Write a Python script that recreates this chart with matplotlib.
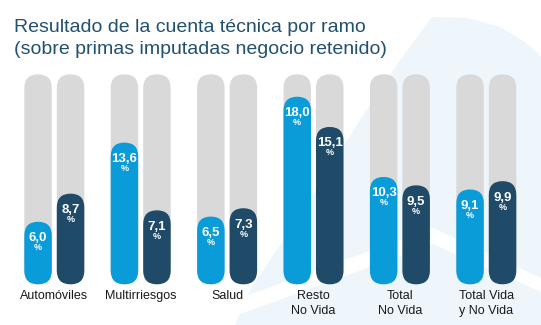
import matplotlib
matplotlib.use("Agg")
import matplotlib.pyplot as plt
from matplotlib.patches import FancyBboxPatch, Polygon

plt.rcParams['font.family'] = ['Liberation Sans', 'DejaVu Sans']

# ---- data ----
categories = ["Automóviles", "Multirriesgos", "Salud", "Resto\nNo Vida", "Total\nNo Vida", "Total Vida\ny No Vida"]
series_a = [6.0, 13.6, 6.5, 18.0, 10.3, 9.1]   # light blue
series_b = [8.7, 7.1, 7.3, 15.1, 9.5, 9.9]     # dark blue
track_max = 20.15
title_lines = ["Resultado de la cuenta técnica por ramo",
               "(sobre primas imputadas negocio retenido)"]

# ---- style ----
W, H = 541, 325
PX_PER_UNIT = 10.42
BASE_PX = 284.3          # pixel row (from top) of bar bottoms
C_LIGHT = "#0a9bd9"
C_DARK = "#1f4a68"
C_TRACK = "#d9d9d9"
C_TITLE = "#22506f"
BAR_W = 27.5
FIRST_CENTER = 54.3
GROUP_STEP = 86.4

fig = plt.figure(figsize=(W / 100, H / 100), dpi=100)
ax = fig.add_axes([0, 0, 1, 1])
ax.set_xlim(0, W)
ax.set_ylim((BASE_PX - H) / PX_PER_UNIT, BASE_PX / PX_PER_UNIT)
ax.axis("off")


def py(p):
    """pixel row from top -> data y"""
    return (BASE_PX - p) / PX_PER_UNIT


# faint background watermark
wm = [(432, 17), (468, 18), (500, 27), (525, 42), (541, 56), (541, 325),
      (235, 325), (250, 290), (300, 215), (360, 120), (400, 60)]
ax.add_patch(Polygon([(x, py(y)) for x, y in wm], closed=True,
                     facecolor="#eef6fc", edgecolor="none", zorder=0))
band = [(235, 300), (433, 228), (541, 278), (541, 292), (433, 244), (235, 316)]
ax.add_patch(Polygon([(x, py(y)) for x, y in band], closed=True,
                     facecolor="white", edgecolor="none", zorder=0.5))


def rbar(x_left, height, color, z):
    p = FancyBboxPatch((x_left, 0), BAR_W, height,
                       boxstyle=f"round,pad=0,rounding_size={BAR_W / 2}",
                       mutation_aspect=1 / PX_PER_UNIT,
                       facecolor=color, edgecolor="none", zorder=z)
    ax.add_patch(p)


for i, cat in enumerate(categories):
    c = FIRST_CENTER + GROUP_STEP * i
    xa = c - 30.0
    xb = c + 2.5
    for xl, v, col in ((xa, series_a[i], C_LIGHT), (xb, series_b[i], C_DARK)):
        rbar(xl, track_max, C_TRACK, 1)
        rbar(xl, v, col, 2)
        xc = xl + BAR_W / 2
        ax.annotate(f"{v:.1f}".replace(".", ","), (xc, v), xytext=(0, -19.5),
                    textcoords="offset pixels", ha="center", va="baseline",
                    color="white", fontsize=9.5, fontweight="bold", zorder=3)
        ax.annotate("%", (xc, v), xytext=(0, -28.5),
                    textcoords="offset pixels", ha="center", va="baseline",
                    color="white", fontsize=6.5, fontweight="bold", zorder=3)
    for j, line in enumerate(cat.split("\n")):
        ax.text(c, py(299.3 + 15 * j), line, ha="center", va="baseline",
                fontsize=9, color="#1a1a1a", zorder=3)

for j, line in enumerate(title_lines):
    ax.text(14, py(31.5 + 22 * j), line, ha="left", va="baseline",
            fontsize=14, color=C_TITLE, zorder=3)

fig.savefig("out.png", dpi=100)
